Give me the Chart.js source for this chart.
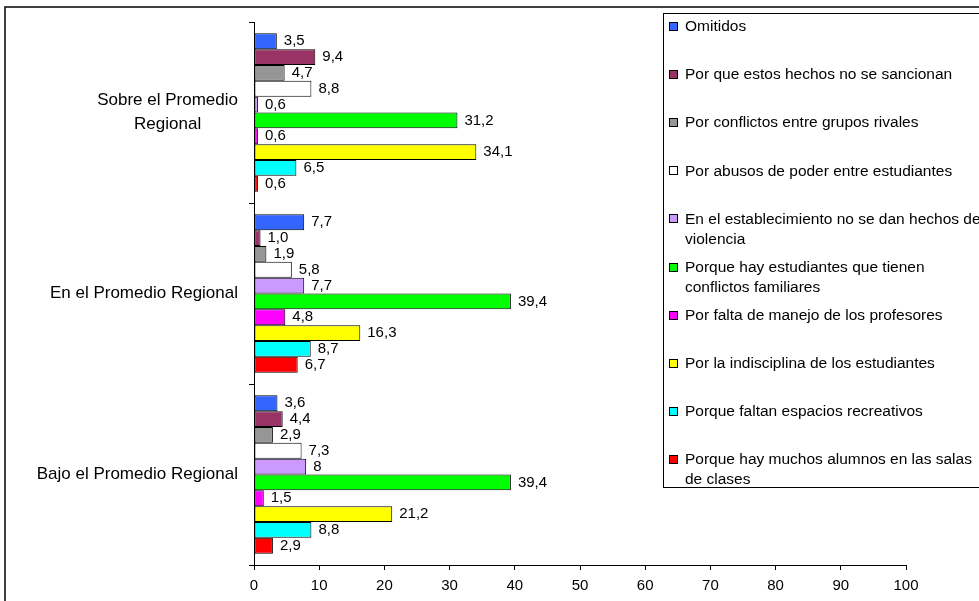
<!DOCTYPE html>
<html>
<head>
<meta charset="utf-8">
<script src="https://cdn.jsdelivr.net/npm/chart.js@4/dist/chart.umd.min.js"></script>
<style>
  html, body { margin: 0; padding: 0; background: #fff; }
  #wrap { width: 979px; height: 601px; }
</style>
</head>
<body>
<div id="wrap"><canvas id="c" width="979" height="601"></canvas></div>
<script>
// Groups shown on the vertical axis (top to bottom)
const categories = [
  'Sobre el Promedio Regional',
  'En el Promedio Regional',
  'Bajo el Promedio Regional'
];

// Reasons given (one bar series each)
const seriesNames = [
  'Omitidos',
  'Por que estos hechos no se sancionan',
  'Por conflictos entre grupos rivales',
  'Por abusos de poder entre estudiantes',
  'En el establecimiento no se dan hechos de violencia',
  'Porque hay estudiantes que tienen conflictos familiares',
  'Por falta de manejo de los profesores',
  'Por la indisciplina de los estudiantes',
  'Porque faltan espacios recreativos',
  'Porque hay muchos alumnos en las salas de clases'
];

const seriesColors = [
  '#3366FF', '#993366', '#969696', '#FFFFFF', '#CC99FF',
  '#00FF00', '#FF00FF', '#FFFF00', '#00FFFF', '#FF0000'
];

// Percentages per group (Sobre, En, Bajo), written as they are labelled
const omitidos      = ['3,5', '7,7', '3,6'];
const noSancionan   = ['9,4', '1,0', '4,4'];
const gruposRivales = ['4,7', '1,9', '2,9'];
const abusosPoder   = ['8,8', '5,8', '7,3'];
const noHayHechos   = ['0,6', '7,7', '8'];
const conflictosFam = ['31,2', '39,4', '39,4'];
const faltaManejo   = ['0,6', '4,8', '1,5'];
const indisciplina  = ['34,1', '16,3', '21,2'];
const faltanEspacios= ['6,5', '8,7', '8,8'];
const muchosAlumnos = ['0,6', '6,7', '2,9'];

const seriesValues = [
  omitidos, noSancionan, gruposRivales, abusosPoder, noHayHechos,
  conflictosFam, faltaManejo, indisciplina, faltanEspacios, muchosAlumnos
];

// Horizontal axis ticks
const xTicks = [0, 10, 20, 30, 40, 50, 60, 70, 80, 90, 100];

const FONT = '"Liberation Sans", Arial, sans-serif';
const toNumber = s => parseFloat(s.replace(',', '.'));

function wrapWords(ctx, text, maxWidth) {
  const words = text.split(' ');
  const lines = [];
  let line = '';
  for (const w of words) {
    const test = line ? line + ' ' + w : w;
    if (line && ctx.measureText(test).width > maxWidth) {
      lines.push(line);
      line = w;
    } else {
      line = test;
    }
  }
  if (line) lines.push(line);
  return lines;
}

// White page with an outer frame
const framePlugin = {
  id: 'frame',
  beforeDraw(chart) {
    const ctx = chart.ctx;
    ctx.save();
    ctx.fillStyle = '#fff';
    ctx.fillRect(0, 0, chart.width, chart.height);
    ctx.restore();
  },
  afterDraw(chart) {
    const ctx = chart.ctx;
    ctx.save();
    ctx.strokeStyle = '#111';
    ctx.lineWidth = 1.6;
    ctx.strokeRect(5, 7, chart.width + 20, chart.height + 20);
    ctx.restore();
  }
};

// Category names left of the axis; wrapped lines are centred on each other
const categoryLabelPlugin = {
  id: 'categoryLabels',
  afterDraw(chart) {
    const ctx = chart.ctx;
    const y = chart.scales.y;
    ctx.save();
    ctx.font = '17px ' + FONT;
    ctx.fillStyle = '#000';
    ctx.textBaseline = 'middle';
    ctx.textAlign = 'center';
    const right = y.right - 16;
    const lh = 24;
    categories.forEach((cat, j) => {
      const lines = wrapWords(ctx, cat, 205);
      const w = Math.max(...lines.map(l => ctx.measureText(l).width));
      const cx = right - w / 2;
      const cy = y.getPixelForValue(j);
      lines.forEach((l, k) => {
        ctx.fillText(l, cx, cy + (k - (lines.length - 1) / 2) * lh);
      });
    });
    ctx.restore();
  }
};

// Value text at the end of each bar
const valueLabelPlugin = {
  id: 'valueLabels',
  afterDatasetsDraw(chart) {
    const ctx = chart.ctx;
    ctx.save();
    ctx.font = '15px ' + FONT;
    ctx.fillStyle = '#000';
    ctx.textBaseline = 'middle';
    ctx.textAlign = 'left';
    chart.data.datasets.forEach((ds, i) => {
      const meta = chart.getDatasetMeta(i);
      meta.data.forEach((el, j) => {
        ctx.fillText(seriesValues[i][j], el.x + 7, el.y);
      });
    });
    ctx.restore();
  }
};

// Boxed legend on the right, drawn over the plot area
const boxLegendPlugin = {
  id: 'boxLegend',
  afterDraw(chart) {
    const ctx = chart.ctx;
    const left = 663.5, top = 13.5, bottom = 487.5;
    const fs = 15.5;
    ctx.save();
    ctx.fillStyle = '#fff';
    ctx.fillRect(left, top, chart.width, bottom - top);
    ctx.strokeStyle = '#000';
    ctx.lineWidth = 1;
    ctx.strokeRect(left, top, chart.width, bottom - top);
    ctx.font = fs + 'px ' + FONT;
    ctx.textBaseline = 'middle';
    ctx.textAlign = 'left';
    chart.data.datasets.forEach((ds, i) => {
      const yc = 27 + i * 48.1;
      ctx.fillStyle = ds.backgroundColor;
      ctx.fillRect(669.5, Math.round(yc) - 4.5, 8, 8);
      ctx.strokeStyle = '#000';
      ctx.strokeRect(669.5, Math.round(yc) - 4.5, 8, 8);
      ctx.fillStyle = '#000';
      const lines = wrapWords(ctx, ds.label, fs * 19.5);
      lines.forEach((l, k) => ctx.fillText(l, 685, yc + k * 20));
    });
    ctx.restore();
  }
};

const datasets = seriesNames.map((name, i) => ({
  label: name,
  data: seriesValues[i].map(toNumber),
  backgroundColor: seriesColors[i],
  borderColor: '#000',
  borderWidth: 1,
  borderSkipped: false,
  barPercentage: 1,
  categoryPercentage: 0.875
}));

new Chart(document.getElementById('c'), {
  type: 'bar',
  data: { labels: categories, datasets },
  options: {
    indexAxis: 'y',
    responsive: false,
    devicePixelRatio: 1,
    animation: false,
    layout: { padding: { left: 0, top: 22, right: 73, bottom: 0 } },
    plugins: { legend: { display: false }, tooltip: { enabled: false } },
    scales: {
      x: {
        type: 'linear',
        position: 'bottom',
        min: xTicks[0],
        max: xTicks[xTicks.length - 1],
        afterBuildTicks(scale) { scale.ticks = xTicks.map(v => ({ value: v })); },
        ticks: { color: '#000', font: { family: FONT, size: 15 }, padding: 7, maxRotation: 0 },
        grid: { drawOnChartArea: false, drawTicks: true, tickLength: 5, color: '#000', tickColor: '#000' },
        border: { display: true, color: '#000', width: 1 },
        afterFit(scale) { scale.height = 36; }
      },
      y: {
        type: 'category',
        offset: true,
        ticks: { display: false },
        grid: { offset: true, drawOnChartArea: false, drawTicks: true, tickLength: 5, color: '#000', tickColor: '#000' },
        border: { display: true, color: '#000', width: 1 },
        afterFit(scale) { scale.width = 254; }
      }
    }
  },
  plugins: [framePlugin, valueLabelPlugin, categoryLabelPlugin, boxLegendPlugin]
});
</script>
</body>
</html>
